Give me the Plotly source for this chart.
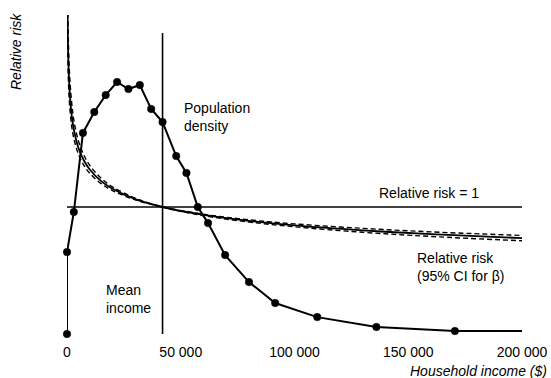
import plotly.graph_objects as go

# ---- data ----
mean_income = 42000

# Population density (arbitrary units, peak = 100)
dens_x = [0, 0, 3000, 7000, 12000, 17000, 22000, 27000, 32000, 37000, 42000,
          48000, 52500, 57500, 62000, 69500, 80000, 91500, 110000, 136000, 170500, 200000]
dens_y = [0, 32.5, 48.4, 79.8, 88.1, 94.8, 100, 97.2, 98.8, 89.3, 84.1,
          70.6, 63.9, 50.4, 44.0, 31.3, 20.6, 12.3, 6.7, 2.8, 1.2, 1.2]
dens_marker = [True] * 21 + [False]

# Relative risk curve and 95% CI bounds (for beta)
rr_x = [250, 500, 1000, 2000, 3000, 5000, 7500, 10000, 15000, 20000, 30000, 42000,
        60000, 80000, 100000, 130000, 160000, 200000]
rr_y = [2.52, 2.22, 1.96, 1.73, 1.61, 1.467, 1.364, 1.295, 1.204, 1.143, 1.062, 1.0,
        0.938, 0.891, 0.855, 0.816, 0.786, 0.755]
rr_lo = [2.28, 2.06, 1.84, 1.645, 1.54, 1.417, 1.326, 1.265, 1.184, 1.129, 1.056, 1.0,
         0.943, 0.899, 0.867, 0.832, 0.804, 0.776]
rr_hi = [2.78, 2.40, 2.09, 1.83, 1.685, 1.522, 1.405, 1.328, 1.226, 1.159, 1.07, 1.0,
         0.932, 0.882, 0.844, 0.801, 0.768, 0.734]

x_ticks = [0, 50000, 100000, 150000, 200000]
x_tick_labels = ["0", "50 000", "100 000", "150 000", "200 000"]

# ---- layout geometry (pixels) ----
W, H = 551, 378
L, R, T, B = 67, 522, 15, 334
RR_TOP = (B - T) / 127.0          # relative risk value at top of plot
DENS_TOP = (B - T) / 252.0 * 100  # density value at top of plot


def px(xp):
    return (xp - L) / (R - L)


def py(yp):
    return (B - yp) / (B - T)


FONT = "Liberation Sans, Arial, sans-serif"

fig = go.Figure()

# RR = 1 reference line
fig.add_trace(go.Scatter(x=[0, 200000], y=[1, 1], mode="lines",
                         line=dict(color="black", width=1.6), hoverinfo="skip"))
# mean income line
fig.add_trace(go.Scatter(x=[mean_income, mean_income], y=[0, 2.37], mode="lines",
                         line=dict(color="black", width=1.6), hoverinfo="skip"))
# CI bounds
for yy in (rr_lo, rr_hi):
    fig.add_trace(go.Scatter(x=rr_x, y=yy, mode="lines", line_shape="spline",
                             line=dict(color="black", width=1.4, dash="5px,3px")))
# relative risk
fig.add_trace(go.Scatter(x=rr_x, y=rr_y, mode="lines", line_shape="spline",
                         line=dict(color="black", width=1.8)))
# population density
fig.add_trace(go.Scatter(x=dens_x, y=dens_y, mode="lines+markers", yaxis="y2",
                         line=dict(color="black", width=2),
                         marker=dict(color="black", opacity=1,
                                     line=dict(color="black", width=0.5),
                                     size=[7.5 if m else 0 for m in dens_marker]),
                         cliponaxis=False))

annotations = [
    dict(text="Population<br>density", x=px(182), y=py(117), xanchor="left", yanchor="middle", align="left"),
    dict(text="Mean<br>income", x=px(104), y=py(299), xanchor="left", yanchor="middle", align="left"),
    dict(text="Relative risk = 1", x=px(481), y=py(193), xanchor="right", yanchor="middle"),
    dict(text="Relative risk<br>(95% CI for β)", x=px(415), y=py(267), xanchor="left", yanchor="middle", align="left"),
    dict(text="<i>Household income ($)</i>", x=px(549), y=py(371), xanchor="right", yanchor="middle"),
    dict(text="<i>Relative risk</i>", x=px(16), y=py(52), xanchor="center", yanchor="middle", textangle=-90),
]
for a in annotations:
    a.update(xref="paper", yref="paper", showarrow=False,
             font=dict(family=FONT, size=14, color="black"))

fig.update_layout(
    width=W, height=H,
    margin=dict(l=L, r=W - R, t=T, b=H - B, pad=0),
    paper_bgcolor="white", plot_bgcolor="white",
    showlegend=False,
    font=dict(family=FONT, size=14, color="black"),
    xaxis=dict(range=[0, 200000], tickvals=x_ticks, ticktext=x_tick_labels,
               showgrid=False, zeroline=False, showline=False, ticks="",
               tickfont=dict(size=14), ticklabelstandoff=8, automargin=False),
    yaxis=dict(range=[0, RR_TOP], showgrid=False, zeroline=False, showline=False,
               showticklabels=False, ticks="", automargin=False),
    yaxis2=dict(range=[0, DENS_TOP], overlaying="y", showgrid=False, zeroline=False,
                showline=False, showticklabels=False, ticks=""),
    annotations=annotations,
)

fig.write_html("out.html", config={"displayModeBar": False},
               post_script="document.body.style.margin='0';document.body.style.padding='0';")
